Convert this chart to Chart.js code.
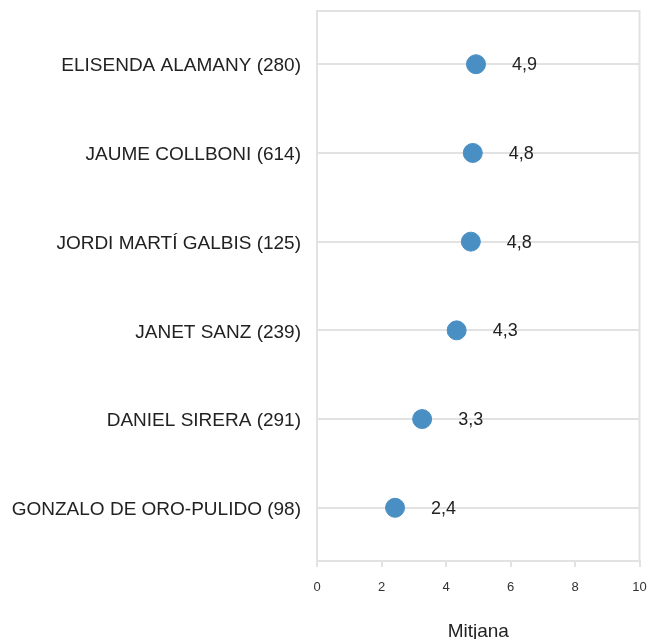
<!DOCTYPE html>
<html>
<head>
<meta charset="utf-8">
<script src="https://cdn.jsdelivr.net/npm/chart.js@4/dist/chart.umd.min.js"></script>
<style>
  html, body { margin: 0; padding: 0; background: #fff; }
  #wrap { width: 650px; height: 639px; }
</style>
</head>
<body>
<div id="wrap"><canvas id="chart"></canvas></div>
<script>
const candidats = [
  "ELISENDA ALAMANY (280)",
  "JAUME COLLBONI (614)",
  "JORDI MARTÍ GALBIS (125)",
  "JANET SANZ (239)",
  "DANIEL SIRERA (291)",
  "GONZALO DE ORO-PULIDO (98)",
];
const mitjanes = [4.93, 4.83, 4.77, 4.33, 3.26, 2.42];
const xTicks = [0, 2, 4, 6, 8, 10];

const fontFamily = "'Liberation Sans', Arial, Helvetica, sans-serif";
const gridColor = "#e2e2e2";

const points = mitjanes.map((v, i) => ({ x: v, y: i }));

// frame round the plot + value labels next to each dot
const frameAndLabels = {
  id: "frameAndLabels",
  afterDatasetsDraw: (chart) => {
    const { ctx, chartArea } = chart;
    ctx.save();
    ctx.strokeStyle = gridColor;
    ctx.lineWidth = 2;
    ctx.beginPath();
    ctx.moveTo(chartArea.left, chartArea.bottom);
    ctx.lineTo(chartArea.left, chartArea.top);
    ctx.lineTo(chartArea.right, chartArea.top);
    ctx.lineTo(chartArea.right, chartArea.bottom);
    ctx.stroke();

    const meta = chart.getDatasetMeta(0);
    ctx.fillStyle = "#222";
    ctx.font = "18px " + fontFamily;
    ctx.textAlign = "left";
    ctx.textBaseline = "middle";
    meta.data.forEach((pt, i) => {
      const txt = mitjanes[i].toFixed(1).replace(".", ",");
      ctx.fillText(txt, pt.x + 36, pt.y + 1);
    });
    ctx.restore();
  },
};

new Chart(document.getElementById("chart"), {
  type: "scatter",
  data: {
    datasets: [
      {
        data: points,
        backgroundColor: "#4a8fc4",
        borderColor: "#4a8fc4",
        pointRadius: 9.5,
        pointHoverRadius: 9.5,
      },
    ],
  },
  options: {
    responsive: true,
    maintainAspectRatio: false,
    animation: false,
    layout: { padding: { top: 11, right: 9, left: 0, bottom: 0 } },
    scales: {
      x: {
        type: "linear",
        min: 0,
        max: 10,
        afterBuildTicks: (scale) => {
          scale.ticks = xTicks.map((v) => ({ value: v }));
        },
        afterFit: (scale) => {
          scale.height = 78;
          scale.paddingLeft = 0;
          scale.paddingRight = 0;
        },
        grid: {
          drawOnChartArea: false,
          color: gridColor,
          lineWidth: 2,
          tickLength: 6,
        },
        border: { color: gridColor, width: 2 },
        ticks: {
          color: "#333",
          font: { size: 13, family: fontFamily },
          padding: 13,
          maxRotation: 0,
        },
        title: {
          display: true,
          text: "Mitjana",
          color: "#222",
          font: { size: 19, family: fontFamily },
          padding: { top: 14, bottom: -4 },
        },
      },
      y: {
        type: "linear",
        min: -0.6,
        max: 5.6,
        reverse: true,
        afterBuildTicks: (scale) => {
          scale.ticks = candidats.map((_, i) => ({ value: i }));
        },
        afterFit: (scale) => {
          scale.width = 317;
          scale.paddingTop = 0;
          scale.paddingBottom = 0;
        },
        grid: {
          color: gridColor,
          lineWidth: 2,
          drawTicks: false,
        },
        border: { color: gridColor, width: 2 },
        ticks: {
          color: "#222",
          font: { size: 19, family: fontFamily },
          padding: 16,
          labelOffset: 2,
          callback: (v) => candidats[v] ?? "",
        },
      },
    },
    plugins: {
      legend: { display: false },
      tooltip: { enabled: false },
    },
  },
  plugins: [frameAndLabels],
});
</script>
</body>
</html>
